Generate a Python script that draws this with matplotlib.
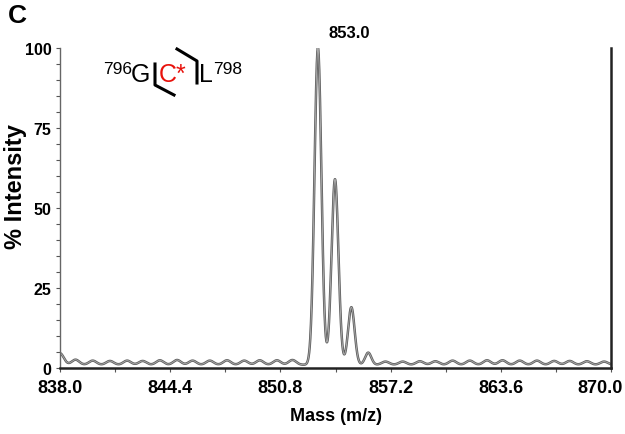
import numpy as np
import matplotlib
matplotlib.use("Agg")
import matplotlib.pyplot as plt
from matplotlib.lines import Line2D

# ---- data ----
# isotope peaks (m/z, % intensity, width sigma)
peak_mz = [852.98, 853.97, 854.92, 855.90]
peak_int = [99.0, 58.0, 18.0, 3.8]
peak_sigma = [0.2, 0.2, 0.19, 0.18]

# baseline ripple crests (m/z, height above offset)
ripple_mz = [838.0, 838.9, 839.9, 840.9, 841.9, 842.8, 843.8, 844.8, 845.7, 846.7,
             847.7, 848.7, 849.6, 850.6, 851.5,
             856.9, 857.9, 858.9, 859.8, 860.8, 861.8, 862.8, 863.7, 864.7, 865.7,
             866.7, 867.6, 868.6, 869.6]
ripple_int = [3.6, 1.6, 1.3, 1.2, 1.3, 1.2, 1.4, 1.5, 1.3, 1.3,
              1.4, 1.3, 1.4, 1.4, 1.5,
              1.0, 1.0, 1.1, 1.1, 1.3, 1.3, 1.4, 1.4, 1.3, 1.3,
              1.2, 1.2, 1.1, 1.0]
ripple_sigma = 0.22
baseline_offset = 1.0

x_ticks = [838.0, 844.4, 850.8, 857.2, 863.6, 870.0]
y_ticks = [0, 25, 50, 75, 100]
top_label = "853.0"

# ---- build profile ----
mz = np.linspace(838.0, 870.0, 3000)
profile = np.full_like(mz, baseline_offset)
for c, h, s in zip(peak_mz, peak_int, peak_sigma):
    profile += h * np.exp(-0.5 * ((mz - c) / s) ** 2)
for c, h in zip(ripple_mz, ripple_int):
    profile += h * np.exp(-0.5 * ((mz - c) / ripple_sigma) ** 2)

plt.rcParams['font.family'] = ['Liberation Sans', 'DejaVu Sans']

fig = plt.figure(figsize=(6.25, 4.35), dpi=100)
ax = fig.add_axes([60/625, 1-369/435, 551/625, 320/435])

ax.plot(mz, profile, color='#5a5a5a', lw=1.8, solid_capstyle='round')
ax.plot(mz, profile, color='#a8a8a8', lw=0.7)

ax.set_xlim(838.0, 870.0)
ax.set_ylim(0, 100)
ax.set_xticks(x_ticks)
# last label is drawn separately so it stays inside the figure
ax.set_xticklabels([f"{v:.1f}" for v in x_ticks[:-1]] + [""])
ax.annotate(f"{x_ticks[-1]:.1f}", xy=(x_ticks[-1], 0), xycoords=('data', 'axes fraction'),
            xytext=(-8, -8), textcoords='offset points', ha='center', va='top',
            fontsize=13, fontweight='bold', annotation_clip=False)
ax.set_xticks(np.arange(838.0, 870.01, 3.2), minor=True)
ax.set_yticks(y_ticks)
ax.set_yticks(np.arange(0, 101, 5), minor=True)

for lab in ax.get_xticklabels():
    lab.set_fontweight('bold')
    lab.set_fontsize(13)
for lab in ax.get_yticklabels():
    lab.set_fontweight('bold')
    lab.set_fontsize(11.5)

ax.tick_params(axis='both', which='both', direction='out', length=3, width=0.8, color='#555555')
ax.tick_params(axis='x', which='major', pad=5)
ax.tick_params(axis='y', which='major', pad=3)

ax.spines['top'].set_visible(False)
ax.spines['left'].set_color('#666666')
ax.spines['left'].set_linewidth(1.0)
ax.spines['bottom'].set_color('#222222')
ax.spines['bottom'].set_linewidth(1.8)
ax.spines['right'].set_color('#222222')
ax.spines['right'].set_linewidth(1.8)

ax.set_xlabel("Mass (m/z)", fontsize=13, fontweight='bold', labelpad=8)
ax.set_ylabel("% Intensity", fontsize=17, fontweight='bold')
ax.yaxis.set_label_coords((27 - 60) / 551, (369 - 187) / 320)

ax.text(854.8, 102.5, top_label, ha='center', va='bottom',
        fontsize=12, fontweight='bold', clip_on=False)

fig.text(8/625, 1-16/435, "C", fontsize=19, fontweight='bold', ha='left', va='center')

# peptide fragment annotation
def fx(px):
    return px / 625
def fy(py):
    return 1 - py / 435

fig.text(fx(103), fy(69), "796", fontsize=12.5, ha='left', va='center')
fig.text(fx(131), fy(75), "G", fontsize=18, ha='left', va='center')
fig.text(fx(159), fy(75), "C*", fontsize=18, ha='left', va='center', color='#e8120c')
fig.text(fx(199), fy(75), "L", fontsize=18, ha='left', va='center')
fig.text(fx(213), fy(69), "798", fontsize=12.5, ha='left', va='center')

fig.add_artist(Line2D([fx(155), fx(155), fx(174)], [fy(65), fy(86), fy(96)],
                      color='black', lw=2.2, transform=fig.transFigure))
fig.add_artist(Line2D([fx(177), fx(197), fx(197)], [fy(50), fy(62), fy(84)],
                      color='black', lw=2.2, transform=fig.transFigure))

fig.savefig("out.png", dpi=100)
